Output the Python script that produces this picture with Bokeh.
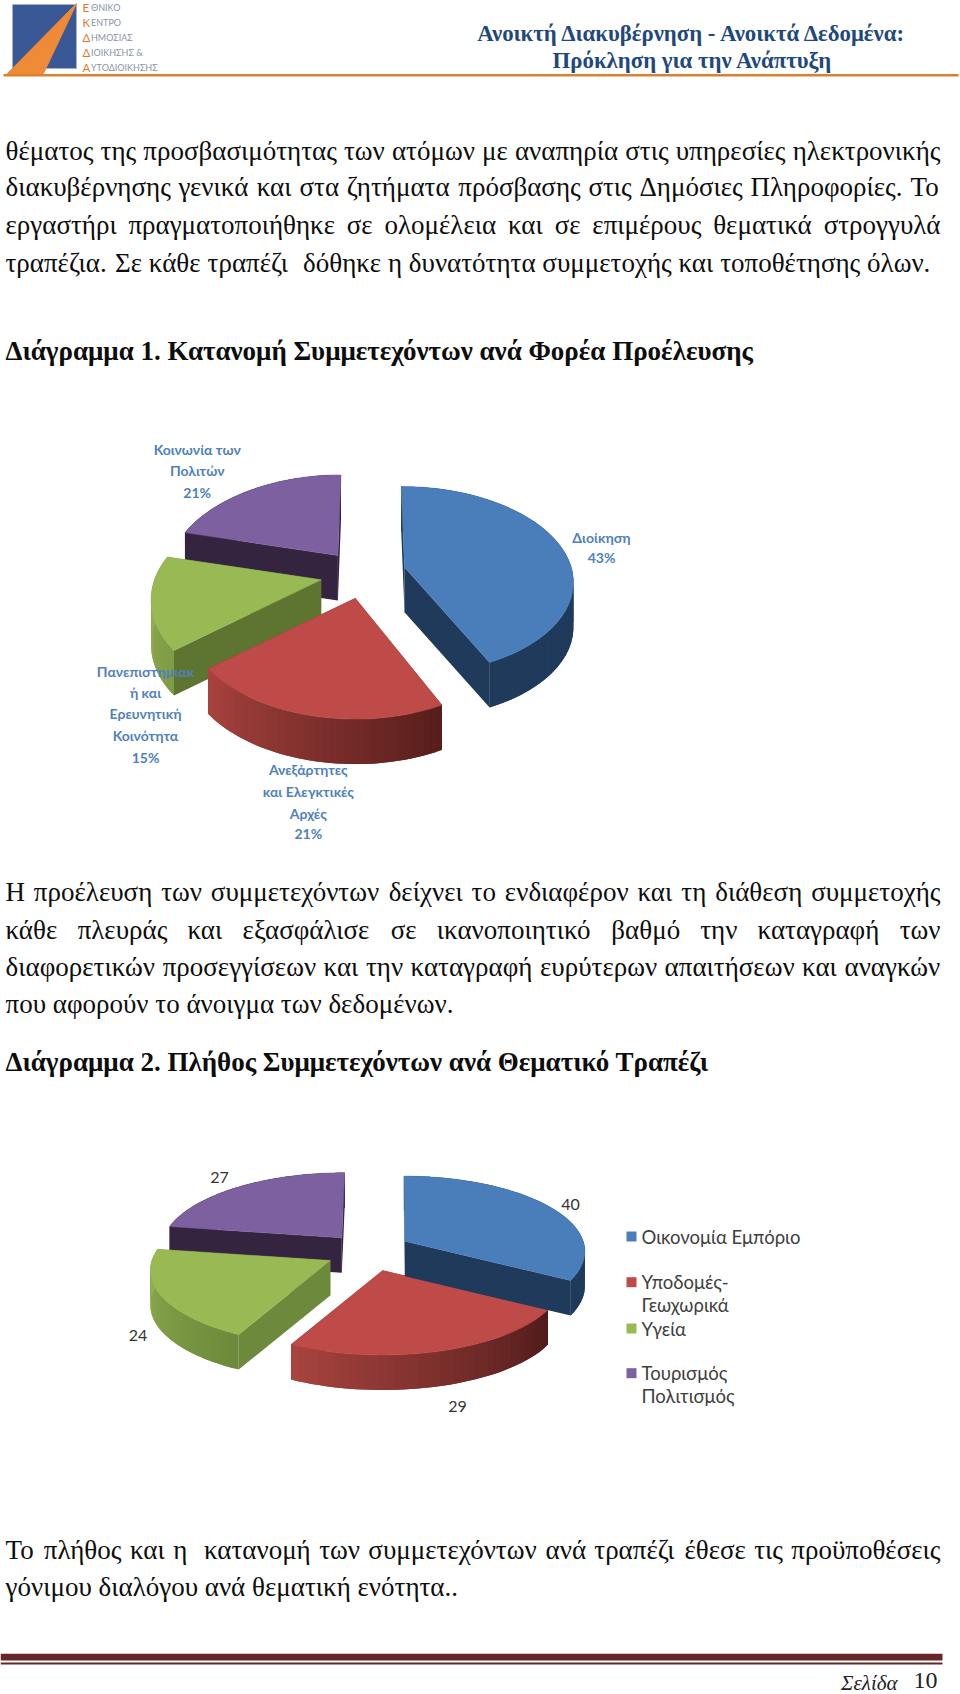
import glob, struct
import numpy as np
from bokeh.plotting import figure
from bokeh.models import Range1d
from bokeh.core.properties import value
from bokeh.embed import file_html
from bokeh.resources import INLINE

# ---------- data ----------
pie1_labels = [["Διοίκηση", "43%"],
               ["Ανεξάρτητες", "και Ελεγκτικές", "Αρχές", "21%"],
               ["Πανεπιστημιακ", "ή και", "Ερευνητική", "Κοινότητα", "15%"],
               ["Κοινωνία των", "Πολιτών", "21%"]]
pie1_values = [43, 21, 15, 21]
pie2_categories = [["Οικονομία Εμπόριο"], ["Υποδομές-", "Γεωχωρικά"], ["Υγεία"], ["Τουρισμός", "Πολιτισμός"]]
pie2_values = [40, 29, 24, 27]

body_top = ["θέματος της προσβασιμότητας των ατόμων με αναπηρία στις υπηρεσίες ηλεκτρονικής",
            "διακυβέρνησης γενικά και στα ζητήματα πρόσβασης στις Δημόσιες Πληροφορίες. Το",
            "εργαστήρι πραγματοποιήθηκε σε ολομέλεια και σε επιμέρους θεματικά στρογγυλά",
            "τραπέζια. Σε κάθε τραπέζι  δόθηκε η δυνατότητα συμμετοχής και τοποθέτησης όλων."]
heading1 = "Διάγραμμα 1. Κατανομή Συμμετεχόντων ανά Φορέα Προέλευσης"
body_mid = ["Η προέλευση των συμμετεχόντων δείχνει το ενδιαφέρον και τη διάθεση συμμετοχής",
            "κάθε πλευράς και εξασφάλισε σε ικανοποιητικό βαθμό την καταγραφή των",
            "διαφορετικών προσεγγίσεων και την καταγραφή ευρύτερων απαιτήσεων και αναγκών",
            "που αφορούν το άνοιγμα των δεδομένων."]
heading2 = "Διάγραμμα 2. Πλήθος Συμμετεχόντων ανά Θεματικό Τραπέζι"
body_end = ["Το πλήθος και η  κατανομή των συμμετεχόντων ανά τραπέζι έθεσε τις προϋποθέσεις",
            "γόνιμου διαλόγου ανά θεματική ενότητα.."]
header_lines = ["Ανοικτή Διακυβέρνηση - Ανοικτά Δεδομένα:", "Πρόκληση για την Ανάπτυξη"]
logo_lines = ["ΕΘΝΙΚΟ", "ΚΕΝΤΡΟ", "ΔΗΜΟΣΙΑΣ", "ΔΙΟΙΚΗΣΗΣ &", "ΑΥΤΟΔΙΟΙΚΗΣΗΣ"]
page_label, page_number = "Σελίδα", "10"

TOP = ["#4a7ebb", "#be4b48", "#98b954", "#7d60a0"]
SERIF = value("Liberation Serif")
SANS = value("Lato")

p = figure(width=960, height=1694, output_backend="svg", toolbar_location=None,
           x_range=Range1d(0, 960), y_range=Range1d(1694, 0), min_border=0,
           outline_line_color=None, background_fill_color="white")
p.axis.visible = False
p.grid.visible = False
p.styles = {"position": "absolute", "left": "0px", "top": "0px"}


# ---------- font metrics for justified lines ----------
def load_widths(path):
    d = open(path, "rb").read()
    n = struct.unpack(">H", d[4:6])[0]
    t = {}
    for i in range(n):
        tag, _, off, ln = struct.unpack(">4sIII", d[12 + 16 * i:28 + 16 * i])
        t[tag.decode()] = off
    upm = struct.unpack(">H", d[t["head"] + 18:t["head"] + 20])[0]
    nh = struct.unpack(">H", d[t["hhea"] + 34:t["hhea"] + 36])[0]
    c = t["cmap"]
    sub = None
    for i in range(struct.unpack(">H", d[c + 2:c + 4])[0]):
        pid, eid, o = struct.unpack(">HHI", d[c + 4 + 8 * i:c + 12 + 8 * i])
        if struct.unpack(">H", d[c + o:c + o + 2])[0] == 4:
            sub = c + o
            break
    sc = struct.unpack(">H", d[sub + 6:sub + 8])[0] // 2
    ends = struct.unpack(f">{sc}H", d[sub + 14:sub + 14 + 2 * sc])
    st = sub + 16 + 2 * sc
    starts = struct.unpack(f">{sc}H", d[st:st + 2 * sc])
    deltas = struct.unpack(f">{sc}h", d[st + 2 * sc:st + 4 * sc])
    ro_p = st + 4 * sc
    ros = struct.unpack(f">{sc}H", d[ro_p:ro_p + 2 * sc])

    def width(ch):
        cp = ord(ch)
        g = 0
        for i in range(sc):
            if starts[i] <= cp <= ends[i]:
                if ros[i] == 0:
                    g = (cp + deltas[i]) & 0xFFFF
                else:
                    a = ro_p + 2 * i + ros[i] + 2 * (cp - starts[i])
                    g = struct.unpack(">H", d[a:a + 2])[0]
                    if g:
                        g = (g + deltas[i]) & 0xFFFF
                break
        g = min(g, nh - 1)
        return struct.unpack(">H", d[t["hmtx"] + 4 * g:t["hmtx"] + 4 * g + 2])[0] / upm
    return width


paths = glob.glob("/usr/share/fonts/**/LiberationSerif-Regular.ttf", recursive=True)
try:
    char_w = load_widths(paths[0])
except Exception:
    char_w = lambda ch: 0.25 if ch == " " else 0.49


def text_w(s, size):
    return sum(char_w(c) for c in s) * size


BODY_PX = 27
LEFT, RIGHT = 5, 940


def put_line(line, y, justify):
    tokens = line.split(" ")
    words = [w for w in tokens if w]
    gap = 0.25 * BODY_PX
    if justify and len(tokens) > 1:
        gap = (RIGHT - LEFT - sum(text_w(w, BODY_PX) for w in words)) / (len(tokens) - 1)
    x = LEFT
    xs, ys, out = [], [], []
    for w in tokens:
        if w:
            xs.append(x)
            ys.append(y)
            out.append(w)
            x += text_w(w, BODY_PX)
        x += gap
    p.text(xs, ys, text=out, text_font=SERIF, text_font_size=f"{BODY_PX}px",
           text_baseline="middle", text_color="#0d0d0d")


for y, ln, j in zip([150, 186.5, 224, 262], body_top, [1, 1, 1, 0]):
    put_line(ln, y, j)
for y, ln, j in zip([891, 929, 966, 1003], body_mid, [1, 1, 1, 0]):
    put_line(ln, y, j)
for y, ln, j in zip([1549, 1586], body_end, [1, 0]):
    put_line(ln, y, j)
for y, ln in zip([350, 1061], [heading1, heading2]):
    p.text([LEFT], [y], text=[ln], text_font=SERIF, text_font_size=f"{BODY_PX}px",
           text_font_style="bold", text_baseline="middle", text_color="#0d0d0d")

# ---------- header ----------
p.patches([[12, 76, 76, 12]], [[4, 4, 68, 68]], fill_color="#3a5896", line_color="#a6b2cf", line_width=1)
p.patches([[76, 43, 7]], [[3, 73, 73]], fill_color="#ef8a37", line_color="#ef8a37")
p.quad(left=[3], right=[958], top=[73.5], bottom=[76], fill_color="#dd8030", line_color=None)
for y, ln in zip([7.3, 21.7, 36.7, 51.7, 66.7], logo_lines):
    p.text([90.5], [y], text=[ln[1:]], text_font=SANS, text_font_size="9px", text_baseline="middle",
           text_color="#8a93a8")
    p.text([82], [y], text=[ln[0]], text_font=SANS, text_font_size="11.5px", text_baseline="middle",
           text_color="#e07b29")
for y, ln in zip([33, 60], header_lines):
    p.text([692], [y], text=[ln], text_font=SERIF, text_font_size="22.8px", text_font_style="bold",
           text_align="center", text_baseline="middle", text_color="#1f497d")

# ---------- footer ----------
p.quad(left=[0], right=[942], top=[1653.3], bottom=[1660], fill_color="#652729", line_color=None)
p.quad(left=[0], right=[942], top=[1662], bottom=[1664], fill_color="#652729", line_color=None)
p.text([897], [1682], text=[page_label], text_font=SERIF, text_font_size="21px", text_font_style="italic",
       text_align="right", text_baseline="middle", text_color="#222222")
p.text([937], [1680], text=[page_number], text_font=SERIF, text_font_size="24px",
       text_align="right", text_baseline="middle", text_color="#222222")


# ---------- 3-D pies ----------
def mix(a, b, t):
    ca = [int(a[i:i + 2], 16) for i in (1, 3, 5)]
    cb = [int(b[i:i + 2], 16) for i in (1, 3, 5)]
    return "#%02x%02x%02x" % tuple(round(x + (y - x) * t) for x, y in zip(ca, cb))


def draw_pie(values, slices, rx, depth, side, rim_a, rim_b):
    """slices: per slice (apex x, apex y, ry, perspective k, lean)"""
    total = sum(values)
    spans, acc = [], 0
    for v in values:
        spans.append((acc / total * 2 * np.pi, (acc + v) / total * 2 * np.pi))
        acc += v
    for i in [3, 2, 1, 0]:
        cx, cy, ry, k, lean = slices[i]

        def pt(th):
            u, v = np.sin(th), np.cos(th)
            w = 1 + k * v
            return cx + (rx * u + lean * v) / w, cy - ry * v / w

        a0, a1 = spans[i]
        xs, ys, cols = [], [], []
        for th in (a0, a1):
            x, y = pt(th)
            xs.append([cx, x, x, cx])
            ys.append([cy, y, y + depth, cy + depth])
            cols.append(side[i])
        angs = np.linspace(a0, a1, 41)
        # each rim piece overlaps the next one, which hides anti-aliased seams
        for j in range(40):
            q = [pt(a) for a in angs[j:j + 3]]
            xs.append([c[0] for c in q] + [c[0] for c in q[::-1]])
            ys.append([c[1] for c in q] + [c[1] + depth for c in q[::-1]])
            cols.append(mix(rim_a[i], rim_b[i], j / 39))
        p.patches(xs, ys, fill_color=cols, line_color=None)
        top = [pt(a) for a in angs]
        p.patches([[cx] + [c[0] for c in top]], [[cy] + [c[1] for c in top]],
                  fill_color=TOP[i], line_color=TOP[i], line_width=0.5)


draw_pie(pie1_values,
         [(404, 566.7, 92, 0.14, -3.7), (354.8, 597.7, 96.7, 0.2, 0),
          (320.7, 579.3, 96.7, 0.2, 0), (337.4, 555, 96.7, 0.2, 3.7)],
         166.7, 45,
         ["#1f3a5a", "#5a1f1c", "#5e7532", "#35243f"],
         ["#1f3a5a", "#571e1b", "#7e9b45", "#35243f"],
         ["#1f3a5a", "#a8433f", "#9ab85a", "#35243f"])
draw_pie(pie2_values,
         [(404.3, 1240.7, 73.5, 0.13, -1), (382.2, 1270, 73.5, 0.13, 0),
          (329.8, 1260, 73.5, 0.13, 0), (341.3, 1237.3, 73.5, 0.13, 3.2)],
         178.4, 35,
         ["#1f3a5a", "#4f1c1a", "#6d8a3c", "#35243f"],
         ["#1f3a5a", "#4f1c1a", "#6d8a3c", "#35243f"],
         ["#1f3a5a", "#a8433f", "#93b252", "#35243f"])

# ---------- pie 1 labels ----------
pos1 = [(601, [536.7, 556.7]), (307.8, [769, 790.7, 812.7, 833]),
        (145, [670.7, 691.7, 713, 735, 756.7]), (196.7, [449, 470, 491.7])]
for (x, yy), lines in zip(pos1, pie1_labels):
    p.text([x] * len(lines), yy, text=lines, text_font=SANS, text_font_size="14px", text_font_style="bold",
           text_align="center", text_baseline="middle", text_color="#4f81bd")

# ---------- pie 2 labels and legend ----------
p.text([570, 457, 137.6, 219], [1204, 1406, 1335, 1177], text=[str(v) for v in pie2_values],
       text_font=SANS, text_font_size="16px", text_align="center", text_baseline="middle", text_color="#333333")
leg_y = [[1236], [1281.7, 1304], [1328], [1372.7, 1395]]
for i, (lines, yy) in enumerate(zip(pie2_categories, leg_y)):
    p.quad(left=[626], right=[636], top=[yy[0] - 5], bottom=[yy[0] + 5], fill_color=TOP[i], line_color=None)
    p.text([641] * len(lines), yy, text=lines, text_font=SANS, text_font_size="18.5px",
           text_baseline="middle", text_color="#404040")

open("out.html", "w").write(file_html(p, INLINE))
